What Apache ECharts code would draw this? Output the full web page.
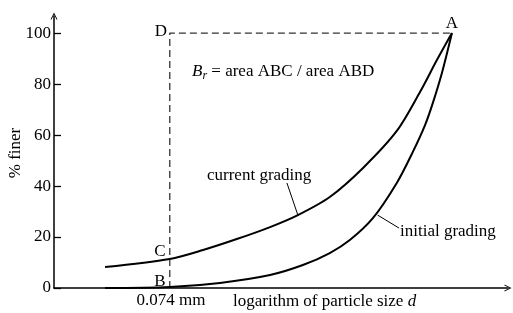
<!DOCTYPE html>
<html>
<head>
<meta charset="utf-8">
<script src="https://cdn.jsdelivr.net/npm/echarts@6/dist/echarts.min.js"></script>
<style>
  html, body { margin: 0; padding: 0; background: #fff; }
  #chart { width: 513px; height: 313px; }
</style>
</head>
<body>
<div id="chart"></div>
<script>
// x = logarithm of particle size (arbitrary units from the axis origin), y = % finer
const currentX = [11.2, 25.4, 32.7, 40.1, 47.4, 53.5, 60.5, 67.8, 75.2, 80.3, 84.0, 87.3]
const currentY = [8.2, 11.4, 14.9, 19.2, 23.9, 28.6, 35.7, 47.1, 61.6, 76.9, 89.4, 100]
const initialX = [11.2, 25.4, 36.4, 47.4, 54.6, 60.5, 64.9, 70.0, 75.2, 78.7, 81.4, 83.1, 85.1, 87.3]
const initialY = [0, 0.4, 2.0, 5.1, 9.0, 13.7, 18.8, 27.5, 41.2, 53.3, 63.9, 72.5, 84.3, 100]
// B -> D -> A (0.074 mm line and 100 % line)
const boxX = [25.4, 25.4, 87.3]
const boxY = [0, 100, 100]
// leader lines from the curve labels
const currentLeader = [[51.1, 41.2], [53.5, 28.6]]
const initialLeader = [[71.0, 28.6], [75.7, 23.5]]
const yTicks = [0, 20, 40, 60, 80, 100]

const font = 'Liberation Serif'
const zip = (xs, ys) => xs.map((x, i) => [x, ys[i]])
const arrow = 'path://M0,10 L5,0 L10,10 L8.6,10 L5,2.8 L1.4,10 Z'

const chart = echarts.init(document.getElementById('chart'), null, { renderer: 'canvas' })

const txt = (text, x, y, extra) => ({
  type: 'text',
  x: x,
  y: y,
  style: Object.assign({
    text: text,
    fill: '#000',
    font: '17px "' + font + '"',
    align: 'center',
    verticalAlign: 'middle'
  }, extra || {})
})

const option = {
  animation: false,
  grid: { left: 54, right: 5, top: 16, bottom: 25, outerBoundsMode: 'none', containLabel: false },
  xAxis: {
    type: 'value',
    min: 0,
    max: 99.6,
    axisLine: {
      show: true,
      lineStyle: { color: '#000', width: 1.5 },
      symbol: ['none', arrow],
      symbolSize: [9, 7]
    },
    axisTick: { show: false },
    axisLabel: { show: false },
    splitLine: { show: false }
  },
  yAxis: {
    type: 'value',
    min: 0,
    max: 106.7,
    axisLine: {
      show: true,
      lineStyle: { color: '#000', width: 1.5 },
      symbol: ['none', arrow],
      symbolSize: [9, 7]
    },
    axisTick: { show: true, inside: true, length: 7, customValues: yTicks, lineStyle: { color: '#000', width: 1.3 } },
    axisLabel: { customValues: yTicks, margin: 3, color: '#000', fontSize: 17, fontFamily: font },
    splitLine: { show: false }
  },
  series: [
    {
      name: 'box',
      type: 'line',
      data: zip(boxX, boxY),
      symbol: 'none',
      lineStyle: { color: '#333', width: 1.3, type: [7, 4] }
    },
    {
      name: 'current grading',
      type: 'line',
      data: zip(currentX, currentY),
      smooth: 0.3,
      symbol: 'none',
      lineStyle: { color: '#000', width: 2 }
    },
    {
      name: 'initial grading',
      type: 'line',
      data: zip(initialX, initialY),
      smooth: 0.3,
      symbol: 'none',
      lineStyle: { color: '#000', width: 2 }
    },
    {
      type: 'line',
      data: currentLeader,
      symbol: 'none',
      lineStyle: { color: '#000', width: 1 }
    },
    {
      type: 'line',
      data: initialLeader,
      symbol: 'none',
      lineStyle: { color: '#000', width: 1 }
    }
  ],
  graphic: [
    txt('% finer', 16, 153, { }),
    txt('A', 452, 24),
    txt('D', 161, 32),
    txt('C', 160, 252),
    txt('B', 160, 282),
    txt('0.074 mm', 171, 301),
    txt('current grading', 207, 176, { align: 'left' }),
    txt('initial grading', 400, 232, { align: 'left' }),
    {
      type: 'text',
      x: 233,
      y: 302,
      style: {
        text: '{n|logarithm of particle size }{i|d}',
        align: 'left',
        verticalAlign: 'middle',
        rich: {
          n: { fontSize: 17, fontFamily: font, color: '#000' },
          i: { fontSize: 17, fontFamily: font, fontStyle: 'italic', color: '#000' }
        }
      }
    },
    {
      type: 'text',
      x: 192,
      y: 72,
      style: {
        text: '{b|B}{r|r}{n| = area ABC / area ABD}',
        align: 'left',
        verticalAlign: 'middle',
        rich: {
          b: { fontSize: 17, fontFamily: font, fontStyle: 'italic', color: '#000' },
          r: { fontSize: 12, fontFamily: font, fontStyle: 'italic', color: '#000', padding: [8, 0, 0, 0] },
          n: { fontSize: 17, fontFamily: font, color: '#000' }
        }
      }
    }
  ]
}
// rotate the y axis title
option.graphic[0].rotation = Math.PI / 2

chart.setOption(option)
</script>
</body>
</html>
